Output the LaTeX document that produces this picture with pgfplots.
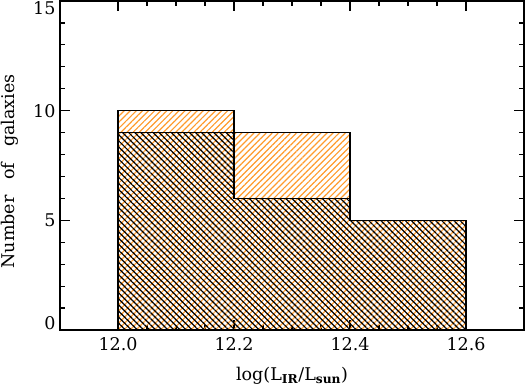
\documentclass[border=0pt]{standalone}
\usepackage{fontspec}
\setmainfont{DejaVu Serif}
\usepackage{pgfplots}
\pgfplotsset{compat=1.18}
\usetikzlibrary{patterns.meta,calc}
\definecolor{historange}{RGB}{255,155,45}

\begin{document}
\begin{tikzpicture}
\begin{axis}[
  name=h,
  scale only axis, width=464pt, height=329pt,
  xmin=11.9, xmax=12.7, ymin=0, ymax=15,
  xtick={12.0,12.2,12.4,12.6}, minor x tick num=3,
  ytick={0,5,10,15}, minor y tick num=4,
  tick align=inside,
  major tick length=10pt, minor tick length=5pt,
  axis line style={line width=1.5pt},
  every tick/.style={line width=1.2pt, black},
  /pgf/number format/assume math mode=true,
  tick label style={font=\fontsize{17.5}{20}\selectfont},
  xticklabel style={yshift=-4pt, /pgf/number format/fixed,
    /pgf/number format/fixed zerofill, /pgf/number format/precision=1},
  yticklabel style={anchor=base east, yshift=-6.4pt, xshift=-1pt},
  yticklabel={\ifdim\tick pt>12pt\raisebox{-7pt}{\pgfmathprintnumber{\tick}}%
    \else\ifdim\tick pt<1pt\raisebox{7pt}{\pgfmathprintnumber{\tick}}%
    \else\pgfmathprintnumber{\tick}\fi\fi},
  label style={font=\fontsize{17.5}{20}\selectfont},
  xlabel={log(L\textsubscript{\textbf{IR}}/L\textsubscript{\textbf{sun}})},
  xlabel style={at={(axis description cs:0.5,0)}, anchor=center, yshift=-46pt},
  ylabel={Number\hspace{0.9em}of\hspace{0.9em}galaxies},
  ylabel style={at={(axis description cs:0,0.5)}, anchor=center, yshift=50pt, xshift=-6pt},
]
% all galaxies
\addplot[const plot mark left, mark=none, draw=black, line width=1.5pt,
  pattern={Lines[angle=45,distance=4.3pt,line width=1.2pt]}, pattern color=historange]
  coordinates {(12.0,0) (12.0,10) (12.2,9) (12.4,5) (12.6,0)} \closedcycle;
% subsample
\addplot[const plot mark left, mark=none, draw=black, line width=1.5pt,
  pattern={Lines[angle=-45,distance=4.3pt,line width=1.2pt]}, pattern color=black]
  coordinates {(12.0,0) (12.0,9) (12.2,6) (12.4,5) (12.6,0)} \closedcycle;
\end{axis}
\pgfresetboundingbox
\path[use as bounding box] ($(h.south west)+(-60pt,-57pt)$) rectangle ($(h.north east)+(1pt,1pt)$);
\end{tikzpicture}
\end{document}
